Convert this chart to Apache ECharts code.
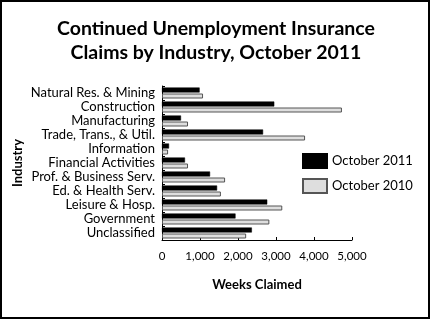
<!DOCTYPE html>
<html><head><meta charset="utf-8">
<script src="https://cdn.jsdelivr.net/npm/echarts@6/dist/echarts.min.js"></script>
<style>html,body{margin:0;padding:0;background:#fff}#c{width:432px;height:320px}</style>
</head><body><div id="c"></div>
<script>
const categories = ["Natural Res. & Mining","Construction","Manufacturing","Trade, Trans., & Util.","Information","Financial Activities","Prof. & Business Serv.","Ed. & Health Serv.","Leisure & Hosp.","Government","Unclassified"];
const oct2011 = [990, 2955, 500, 2660, 185, 605, 1265, 1450, 2770, 1935, 2365];
const oct2010 = [1080, 4735, 685, 3765, 160, 685, 1660, 1550, 3165, 2825, 2215];
const xTicks = [0, 1000, 2000, 3000, 4000, 5000];
const FONT = 'Lato';
const chart = echarts.init(document.getElementById('c'));
chart.setOption({
  animation: false,
  textStyle: {fontFamily: FONT, color: '#000'},
  title: {
    text: 'Continued Unemployment Insurance\nClaims by Industry, October 2011',
    left: 'center', top: 12,
    textStyle: {fontFamily: FONT, fontWeight: 'bold', fontSize: 19.5, lineHeight: 24, color: '#000'}
  },
  legend: {
    orient: 'vertical', left: 302, top: 153, padding: 0,
    icon: 'rect',
    itemWidth: 24, itemHeight: 14, itemGap: 9,
    textStyle: {fontFamily: FONT, fontSize: 13, color: '#000'},
    data: ['October 2011', 'October 2010']
  },
  grid: {left: 162, right: 80, top: 86, bottom: 80},
  xAxis: {
    type: 'value', min: 0, max: 5000, interval: 1000,
    name: 'Weeks Claimed', nameLocation: 'middle', nameGap: 38,
    nameTextStyle: {fontFamily: FONT, fontWeight: 'bold', fontSize: 13, color: '#000'},
    axisLine: {show: true, lineStyle: {color: '#000', width: 1}},
    axisTick: {show: true, inside: true, length: 3, lineStyle: {color: '#000'}},
    axisLabel: {fontFamily: FONT, fontSize: 11.5, color: '#000', margin: 10,
      formatter: v => xTicks.includes(v) ? v.toLocaleString('en-US') : ''},
    splitLine: {show: false}
  },
  yAxis: {
    type: 'category', data: categories, inverse: true,
    name: 'Industry', nameLocation: 'middle', nameGap: 138, nameRotate: 90,
    nameTextStyle: {fontFamily: FONT, fontWeight: 'bold', fontSize: 13, color: '#000'},
    axisLine: {show: true, lineStyle: {color: '#000', width: 1}},
    axisTick: {show: true, inside: true, length: 3, lineStyle: {color: '#000'}},
    axisLabel: {fontFamily: FONT, fontSize: 13, color: '#000', margin: 7, interval: 0},
    splitLine: {show: false}
  },
  series: [
    {name: 'October 2011', type: 'bar', data: oct2011, barWidth: 5, barGap: '20%',
     itemStyle: {color: '#000', borderColor: '#000', borderWidth: 0.5}},
    {name: 'October 2010', type: 'bar', data: oct2010, barWidth: 5,
     itemStyle: {color: '#dedede', borderColor: '#555', borderWidth: 1}}
  ],
  graphic: [{type: 'rect', shape: {x: 1, y: 1, width: 428, height: 317},
    style: {fill: 'none', stroke: '#000', lineWidth: 2}, z: 100}]
});
</script></body></html>
